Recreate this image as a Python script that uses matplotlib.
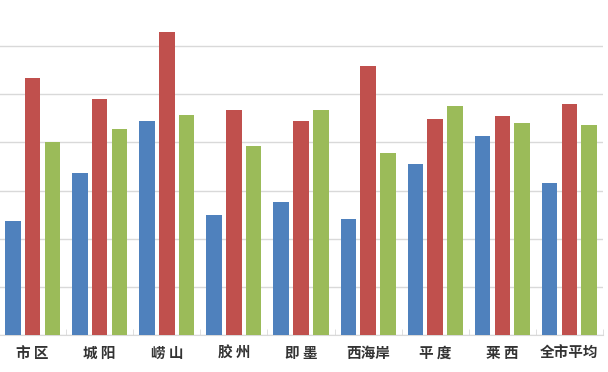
import matplotlib
matplotlib.use('Agg')
import matplotlib.pyplot as plt
import numpy as np

plt.rcParams['font.family'] = ['Noto Sans CJK SC', 'DejaVu Sans']

# 区域
regions = ['市 区', '城 阳', '崂 山', '胶 州', '即 墨', '西海岸', '平 度', '莱 西', '全市平均']

# 三组数值
blue = [11.8, 16.8, 22.2, 12.5, 13.8, 12.1, 17.8, 20.7, 15.8]
red = [26.7, 24.5, 31.5, 23.4, 22.2, 27.9, 22.4, 22.7, 24.0]
green = [20.0, 21.4, 22.9, 19.6, 23.4, 18.9, 23.8, 22.0, 21.8]

colors = ['#4F81BD', '#C0504D', '#9BBB59']

fig = plt.figure(figsize=(6.08, 3.72), dpi=100)
ax = fig.add_axes([-1 / 608, 37 / 372, 604 / 608, 336 / 372])

x = np.arange(len(regions))
w = 0.232
step = 0.295
for i, (vals, c) in enumerate(zip([blue, red, green], colors)):
    ax.bar(x + (i - 1) * step, vals, width=w, color=c, zorder=3)

ax.set_xlim(-0.5, len(regions) - 0.5)
ax.set_ylim(0, 34.9)
ax.set_yticks(np.arange(0, 35, 5))
ax.yaxis.grid(True, color='#d9d9d9', linewidth=1, zorder=0)
ax.tick_params(axis='y', left=False, labelleft=False)

# 类别标签
ax.set_xticks(x)
ax.set_xticklabels(regions, fontsize=10.5, fontweight='bold', color='#333333')
ax.tick_params(axis='x', which='major', length=0, pad=7)
ax.set_xticks(np.arange(-0.5, len(regions), 1), minor=True)
ax.tick_params(axis='x', which='minor', direction='in', length=4, color='#d9d9d9')

for s in ['top', 'left', 'right']:
    ax.spines[s].set_visible(False)
ax.spines['bottom'].set_color('#d9d9d9')

fig.savefig('out.png', dpi=100)
